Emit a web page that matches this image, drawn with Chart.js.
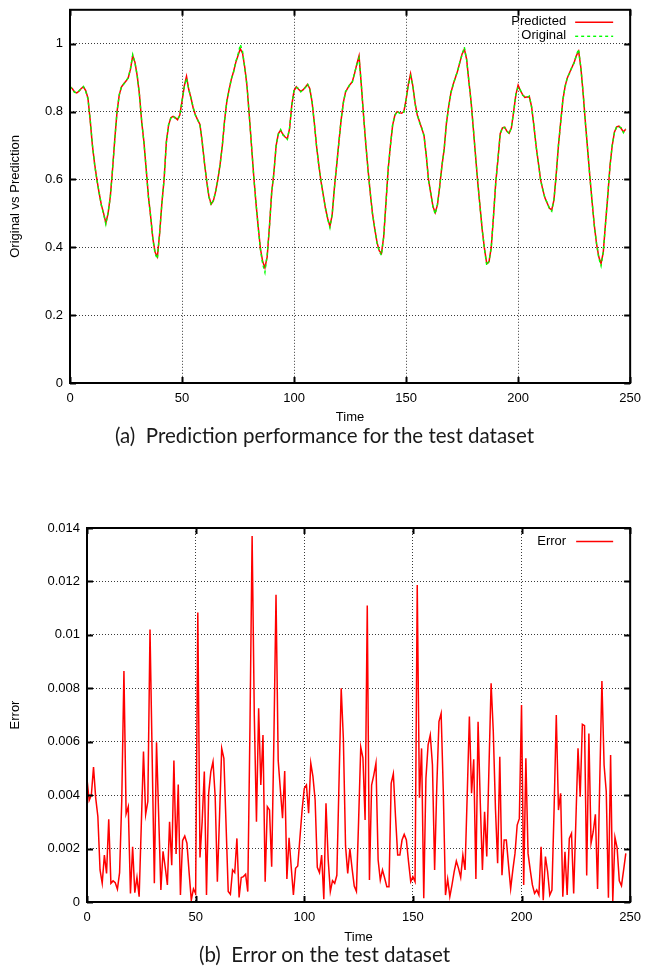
<!DOCTYPE html>
<html><head><meta charset="utf-8">
<script src="https://cdn.jsdelivr.net/npm/chart.js@4.4.0/dist/chart.umd.min.js"></script>
<style>
html,body{margin:0;padding:0;background:#fff;}
body{width:649px;height:966px;position:relative;overflow:hidden;}
canvas{position:absolute;left:0;}
.cap{position:absolute;left:0;width:649px;text-align:center;font-family:Lato,"Open Sans",sans-serif;font-size:20.5px;line-height:24px;color:#1a1a1a;white-space:pre;}
</style></head>
<body>
<canvas id="c1" width="649" height="435" style="top:-5px;width:649px;height:435px"></canvas>
<div class="cap" style="top:423px">(a)  Prediction performance for the test dataset</div>
<canvas id="c2" width="649" height="470" style="top:480px;width:649px;height:470px"></canvas>
<div class="cap" style="top:942px">(b)  Error on the test dataset</div>
<script>
const predicted = [
0.873,0.868,0.858,0.855,0.860,0.868,0.873,0.862,0.840,0.775,
0.700,0.645,0.600,0.560,0.525,0.500,0.472,0.500,0.550,0.630,
0.720,0.800,0.850,0.873,0.882,0.890,0.900,0.925,0.965,0.945,
0.905,0.850,0.770,0.710,0.630,0.550,0.490,0.425,0.385,0.372,
0.440,0.530,0.600,0.710,0.760,0.782,0.786,0.782,0.776,0.790,
0.830,0.875,0.904,0.865,0.840,0.810,0.790,0.775,0.762,0.710,
0.650,0.595,0.550,0.527,0.537,0.565,0.600,0.645,0.700,0.775,
0.830,0.865,0.895,0.918,0.945,0.965,0.985,0.972,0.930,0.875,
0.790,0.700,0.610,0.530,0.460,0.395,0.358,0.340,0.372,0.460,
0.560,0.620,0.700,0.735,0.745,0.733,0.725,0.720,0.750,0.820,
0.862,0.873,0.866,0.860,0.864,0.872,0.880,0.868,0.830,0.770,
0.700,0.645,0.595,0.555,0.515,0.485,0.462,0.495,0.575,0.640,
0.710,0.775,0.827,0.858,0.870,0.880,0.888,0.912,0.940,0.964,
0.880,0.790,0.705,0.630,0.560,0.500,0.455,0.415,0.390,0.382,
0.430,0.530,0.630,0.700,0.760,0.790,0.800,0.797,0.795,0.800,
0.835,0.880,0.912,0.876,0.825,0.790,0.770,0.750,0.730,0.670,
0.600,0.560,0.520,0.502,0.525,0.580,0.640,0.690,0.765,0.815,
0.855,0.880,0.900,0.920,0.945,0.970,0.984,0.955,0.890,0.830,
0.750,0.670,0.590,0.520,0.450,0.395,0.352,0.357,0.400,0.490,
0.590,0.660,0.735,0.752,0.754,0.742,0.736,0.752,0.800,0.850,
0.878,0.862,0.850,0.842,0.843,0.844,0.815,0.760,0.700,0.650,
0.600,0.570,0.545,0.530,0.515,0.510,0.540,0.615,0.700,0.770,
0.835,0.876,0.900,0.915,0.930,0.945,0.965,0.978,0.930,0.855,
0.770,0.690,0.610,0.535,0.465,0.410,0.372,0.352,0.385,0.470,
0.550,0.640,0.700,0.740,0.755,0.757,0.750,0.740,0.748
];
const original = [
0.875,0.866,0.857,0.856,0.861,0.867,0.874,0.860,0.838,0.778,
0.703,0.643,0.598,0.562,0.523,0.498,0.468,0.502,0.548,0.632,
0.718,0.802,0.849,0.875,0.881,0.891,0.899,0.928,0.968,0.943,
0.907,0.848,0.772,0.708,0.632,0.548,0.492,0.423,0.380,0.366,
0.443,0.528,0.602,0.708,0.762,0.781,0.787,0.780,0.777,0.788,
0.832,0.872,0.898,0.867,0.838,0.812,0.788,0.776,0.760,0.712,
0.648,0.597,0.548,0.524,0.539,0.563,0.602,0.643,0.702,0.773,
0.832,0.863,0.897,0.916,0.948,0.968,0.998,0.978,0.928,0.878,
0.788,0.702,0.608,0.532,0.458,0.393,0.350,0.326,0.378,0.458,
0.562,0.618,0.702,0.733,0.747,0.731,0.727,0.718,0.752,0.818,
0.864,0.871,0.868,0.858,0.866,0.870,0.882,0.866,0.832,0.768,
0.702,0.643,0.597,0.553,0.517,0.483,0.458,0.497,0.573,0.642,
0.708,0.777,0.825,0.860,0.868,0.882,0.886,0.914,0.938,0.958,
0.882,0.788,0.707,0.628,0.562,0.498,0.457,0.413,0.388,0.376,
0.432,0.528,0.632,0.698,0.762,0.788,0.802,0.795,0.797,0.798,
0.837,0.878,0.904,0.878,0.823,0.792,0.768,0.752,0.728,0.672,
0.598,0.562,0.518,0.498,0.527,0.578,0.642,0.688,0.767,0.813,
0.857,0.878,0.902,0.918,0.947,0.968,0.990,0.953,0.892,0.828,
0.752,0.668,0.592,0.518,0.452,0.393,0.346,0.359,0.398,0.492,
0.588,0.662,0.733,0.754,0.752,0.744,0.734,0.754,0.798,0.852,
0.872,0.864,0.848,0.844,0.841,0.846,0.813,0.762,0.698,0.652,
0.598,0.572,0.543,0.532,0.513,0.506,0.542,0.613,0.702,0.768,
0.837,0.874,0.902,0.913,0.932,0.943,0.967,0.984,0.928,0.857,
0.768,0.692,0.608,0.537,0.463,0.412,0.368,0.345,0.387,0.468,
0.552,0.638,0.702,0.738,0.757,0.755,0.752,0.738,0.750
];
const error = [
0.0046,0.0038,0.0040,0.00505,0.0039,0.0032,0.0012,0.0007,0.00176,0.00107,
0.0031,0.0007,0.00079,0.00072,0.00048,0.0011,0.0038,0.00865,0.0033,0.00357,
0.00032,0.00207,0.00035,0.00092,0.0002,0.0029,0.00563,0.00328,0.00376,0.0102,
0.0054,0.0007,0.00598,0.0032,0.00045,0.0019,0.0013,0.00064,0.0030,0.00138,
0.0053,0.0018,0.0044,0.00026,0.0023,0.00247,0.0022,0.0011,0.00007,0.00049,
0.00032,0.01084,0.00167,0.0030,0.00488,0.00026,0.00407,0.00488,0.00525,0.00394,
0.00076,0.0032,0.00575,0.00538,0.0029,0.00039,0.00029,0.0012,0.0011,0.00238,
0.00017,0.00092,0.00095,0.00104,0.00039,0.0065,0.0137,0.0070,0.0030,0.00725,
0.00438,0.00625,0.00076,0.00357,0.00344,0.00132,0.0060,0.0115,0.0053,0.0042,
0.00314,0.0049,0.00086,0.0024,0.0013,0.00026,0.00126,0.00135,0.0024,0.00344,
0.00425,0.00438,0.00332,0.0052,0.00469,0.00382,0.0013,0.0011,0.00176,0.0001,
0.0037,0.0016,0.00039,0.0008,0.0007,0.001,0.0045,0.008,0.0061,0.0021,
0.00107,0.002,0.00126,0.0006,0.0004,0.003,0.0058,0.0054,0.00307,0.0111,
0.00082,0.00438,0.00475,0.0052,0.00157,0.00082,0.0012,0.0009,0.00057,0.00057,
0.00444,0.0048,0.0032,0.00176,0.00176,0.00232,0.00253,0.00232,0.0015,0.00076,
0.00095,0.00076,0.01187,0.0039,0.00575,0.00014,0.00463,0.00588,0.00625,0.00513,
0.0012,0.00432,0.00675,0.00706,0.00413,0.00026,0.00086,0.0002,0.00064,0.00114,
0.00153,0.00126,0.00092,0.00176,0.0012,0.004,0.00694,0.00407,0.00534,0.00086,
0.00675,0.00376,0.0012,0.00338,0.0017,0.005,0.00819,0.00638,0.0035,0.00145,
0.00544,0.001,0.00232,0.00232,0.0014,0.0005,0.0012,0.00182,0.00288,0.00313,
0.00737,0.00064,0.00538,0.00182,0.0012,0.00064,0.00032,0.00045,0.00026,0.00207,
0.00007,0.0017,0.00114,0.00026,0.00045,0.0035,0.007,0.00344,0.00407,0.0002,
0.00188,0.00026,0.00238,0.00257,0.00032,0.003,0.00575,0.00394,0.00665,0.0066,
0.00099,0.00631,0.0022,0.00263,0.00328,0.00049,0.0045,0.00827,0.00513,0.00413,
0.00016,0.0055,0.00004,0.00242,0.00203,0.00079,0.00061,0.0012,0.00182
];
const time = Array.from({length: predicted.length}, (_, i) => i);
const xTicks = [0, 50, 100, 150, 200, 250];
const yTicksA = [0, 0.2, 0.4, 0.6, 0.8, 1];
const yTicksB = [0, 0.002, 0.004, 0.006, 0.008, 0.01, 0.012, 0.014];

const FONT = '"Liberation Sans", Arial, Helvetica, sans-serif';

const framePlugin = {
  id: 'gpFrame',
  afterDatasetsDraw(chart) {
    const {ctx, chartArea: a, scales: {x, y}} = chart;
    ctx.save();
    ctx.strokeStyle = '#000';
    ctx.lineWidth = 2;
    ctx.setLineDash([]);
    ctx.strokeRect(a.left, a.top, a.right - a.left, a.bottom - a.top);
    const L = 6;
    ctx.beginPath();
    x.ticks.forEach(t => {
      const px = Math.round(x.getPixelForValue(t.value)) + 0.5;
      ctx.moveTo(px, a.bottom); ctx.lineTo(px, a.bottom - L);
      ctx.moveTo(px, a.top); ctx.lineTo(px, a.top + L);
    });
    y.ticks.forEach(t => {
      const py = Math.round(y.getPixelForValue(t.value)) + 0.5;
      ctx.moveTo(a.left, py); ctx.lineTo(a.left + L, py);
      ctx.moveTo(a.right, py); ctx.lineTo(a.right - L, py);
    });
    ctx.stroke();
    ctx.restore();
  }
};

const legendPlugin = {
  id: 'gpLegend',
  afterDatasetsDraw(chart, args, opts) {
    const {ctx, chartArea: a} = chart;
    ctx.save();
    ctx.font = '13px ' + FONT;
    ctx.textAlign = 'right';
    ctx.textBaseline = 'middle';
    opts.items.forEach((idx, k) => {
      const ds = chart.data.datasets[idx];
      const yy = a.top + opts.top + k * opts.gap;
      ctx.fillStyle = '#000';
      ctx.fillText(ds.label, a.right - opts.textRight, yy);
      ctx.strokeStyle = ds.borderColor;
      ctx.lineWidth = ds.borderWidth;
      ctx.setLineDash(ds.borderDash || []);
      ctx.beginPath();
      ctx.moveTo(a.right - opts.x1, yy + 0.5);
      ctx.lineTo(a.right - opts.x2, yy + 0.5);
      ctx.stroke();
    });
    ctx.restore();
  }
};

function fmt(v) { return String(+Number(v).toFixed(6)); }

function makeScales(yTicks, ymax, xAxisH, yAxisW, yTitle) {
  const gridCommon = {color: '#3a3a3a', lineWidth: 1, drawTicks: false};
  return {
    x: {
      type: 'linear', min: 0, max: 250,
      afterBuildTicks: ax => { ax.ticks = xTicks.map(v => ({value: v})); },
      afterFit: ax => { ax.height = xAxisH; },
      grid: gridCommon,
      border: {display: false, dash: [1, 2]},
      ticks: {padding: 8, color: '#000', font: {family: FONT, size: 13}, maxRotation: 0, autoSkip: false, callback: fmt},
      title: {display: true, text: 'Time', color: '#000', font: {family: FONT, size: 13}, padding: {top: 0, bottom: 5}}
    },
    y: {
      type: 'linear', min: 0, max: ymax,
      afterBuildTicks: ax => { ax.ticks = yTicks.map(v => ({value: v})); },
      afterFit: ax => { ax.width = yAxisW; },
      grid: gridCommon,
      border: {display: false, dash: [1, 2]},
      ticks: {padding: 7, color: '#000', font: {family: FONT, size: 13}, autoSkip: false, callback: fmt},
      title: {display: true, text: yTitle, color: '#000', font: {family: FONT, size: 13}, padding: {top: 8, bottom: 0}}
    }
  };
}

new Chart(document.getElementById('c1'), {
  type: 'line',
  data: {
    labels: time,
    datasets: [
      {label: 'Predicted', data: predicted, borderColor: '#ff0000', borderWidth: 1.5, order: 2},
      {label: 'Original', data: original, borderColor: '#00ff00', borderWidth: 1.4, borderDash: [3, 3], order: 1}
    ]
  },
  options: {
    responsive: false, animation: false, devicePixelRatio: 1,
    layout: {padding: {top: 9, right: 14, left: 0, bottom: 0}},
    elements: {point: {radius: 0}, line: {tension: 0, fill: false}},
    plugins: {
      legend: {display: false}, tooltip: {enabled: false},
      gpLegend: {items: [0, 1], top: 12, gap: 14, textRight: 64, x1: 55, x2: 17}
    },
    scales: makeScales(yTicksA, 1.1, 47, 70, 'Original vs Prediction')
  },
  plugins: [framePlugin, legendPlugin]
});

new Chart(document.getElementById('c2'), {
  type: 'line',
  data: {
    labels: time,
    datasets: [
      {label: 'Error', data: error, borderColor: '#ff0000', borderWidth: 1.5}
    ]
  },
  options: {
    responsive: false, animation: false, devicePixelRatio: 1,
    layout: {padding: {top: 48, right: 14, left: 0, bottom: 0}},
    elements: {point: {radius: 0}, line: {tension: 0, fill: false}},
    plugins: {
      legend: {display: false}, tooltip: {enabled: false},
      gpLegend: {items: [0], top: 13, gap: 14, textRight: 64, x1: 54, x2: 17}
    },
    scales: makeScales(yTicksB, 0.014, 48, 87, 'Error')
  },
  plugins: [framePlugin, legendPlugin]
});
</script>
</body></html>
